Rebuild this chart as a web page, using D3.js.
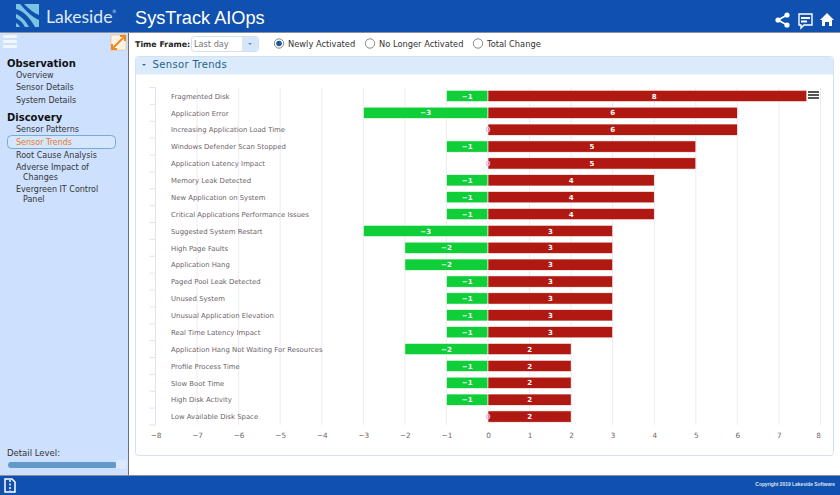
<!DOCTYPE html>
<html>
<head>
<meta charset="utf-8">
<script src="https://cdn.jsdelivr.net/npm/d3@7"></script>
<style>
html, body { margin: 0; padding: 0; background: #fff; overflow: hidden; }
svg { display: block; }
text { font-family: "DejaVu Sans", sans-serif; }
</style>
</head>
<body>
<svg id="page" width="840" height="495"></svg>
<script>
const categories = ['Fragmented Disk', 'Application Error', 'Increasing Application Load Time', 'Windows Defender Scan Stopped',
  'Application Latency Impact', 'Memory Leak Detected', 'New Application on System', 'Critical Applications Performance Issues',
  'Suggested System Restart', 'High Page Faults', 'Application Hang', 'Paged Pool Leak Detected', 'Unused System',
  'Unusual Application Elevation', 'Real Time Latency Impact', 'Application Hang Not Waiting For Resources',
  'Profile Process Time', 'Slow Boot Time', 'High Disk Activity', 'Low Available Disk Space'];
const noLongerActive = [-1, -3, 0, -1, 0, -1, -1, -1, -3, -2, -2, -1, -1, -1, -1, -2, -1, -1, -1, 0];
const newlyActive = [8, 6, 6, 5, 5, 4, 4, 4, 3, 3, 3, 3, 3, 3, 3, 2, 2, 2, 2, 2];
const tickValues = d3.range(-8, 9);
const observationLinks = ['Overview', 'Sensor Details', 'System Details'];
const discoveryLinks = ['Sensor Patterns', 'Sensor Trends', 'Root Cause Analysis'];
const radioLabels = ['Newly Activated', 'No Longer Activated', 'Total Change'];

const svg = d3.select('#page');
const blue = '#1050ae';

// page frame
svg.append('rect').attr('width', 840).attr('height', 32).attr('fill', blue);
svg.append('rect').attr('y', 32).attr('width', 840).attr('height', 1).attr('fill', '#8a9099');
svg.append('rect').attr('y', 33).attr('width', 128).attr('height', 442).attr('fill', '#cde1fe');
svg.append('rect').attr('x', 128).attr('y', 33).attr('width', 1).attr('height', 442).attr('fill', '#66707c');
svg.append('rect').attr('y', 475).attr('width', 840).attr('height', 1).attr('fill', '#8a9099');
svg.append('rect').attr('y', 476).attr('width', 840).attr('height', 19).attr('fill', blue);

// logo
const logo = svg.append('g');
logo.append('rect').attr('x', 16).attr('y', 4).attr('width', 23).attr('height', 23).attr('fill', '#7cc4e4');
logo.append('path').attr('d', 'M16 9 C24 11 30 18 35 27 L29 27 C25 20 21 16 16 14 Z M16 18 C20 20 23 23 25 27 L20 27 C19 25 18 24 16 23 Z M24 4 C29 9 34 13 39 15 L39 20 C32 17 26 11 20 4 Z').attr('fill', blue);
svg.append('text').attr('x', 46).attr('y', 23).attr('fill', '#dfeaf8').attr('font-size', 17.6).style('font-family', 'Lato, sans-serif').text('Lakeside');
svg.append('text').attr('x', 112).attr('y', 13).attr('fill', '#dfeaf8').attr('font-size', 4.5).text('\u00ae');
svg.append('text').attr('x', 135).attr('y', 24).attr('fill', '#fff').attr('font-size', 18.2).style('font-family', '"Liberation Sans", sans-serif').text('SysTrack AIOps');

// header icons
const icons = svg.append('g').attr('fill', '#fff');
icons.append('path').attr('d', 'M778 20 L787 15 M778 20 L787 25').attr('stroke', '#fff').attr('stroke-width', 1.6);
[[778, 20], [787, 15], [787, 25]].forEach(p => icons.append('circle').attr('cx', p[0]).attr('cy', p[1]).attr('r', 2.6));
icons.append('path').attr('d', 'M799 14 H812 V25 H804 L801 28 V25 H799 Z').attr('fill', 'none').attr('stroke', '#fff').attr('stroke-width', 1.4);
icons.append('rect').attr('x', 801).attr('y', 17).attr('width', 9).attr('height', 2);
icons.append('rect').attr('x', 801).attr('y', 20.5).attr('width', 6).attr('height', 2);
icons.append('path').attr('d', 'M827 13 L834 20 L832 20 L832 26 L829 26 L829 22 L825 22 L825 26 L822 26 L822 20 L820 20 Z');

// sidebar
svg.append('g').attr('fill', '#f2f7ff').selectAll('rect').data([36, 41, 46]).join('rect')
  .attr('x', 3).attr('y', d => d - 1).attr('width', 14).attr('height', 3).attr('rx', 1);
svg.append('rect').attr('x', 111).attr('y', 35).attr('width', 15).attr('height', 15).attr('fill', '#fdf3e6').attr('stroke', '#f5a45a').attr('stroke-width', .5);
svg.append('path').attr('d', 'M112 49 L125 36 M112 44 V49 H117 M120 36 H125 V41').attr('fill', 'none').attr('stroke', '#f08a1e').attr('stroke-width', 2);

const side = svg.append('g');
side.append('text').attr('x', 7).attr('y', 67).attr('font-size', 10).attr('font-weight', 'bold').attr('fill', '#111').text('Observation');
side.selectAll('.ob').data(observationLinks).join('text').attr('class', 'ob')
  .attr('x', 16).attr('y', (d, i) => 78 + i * 12.3).attr('font-size', 8).attr('fill', '#333').text(d => d);
side.append('text').attr('x', 7).attr('y', 121).attr('font-size', 10).attr('font-weight', 'bold').attr('fill', '#111').text('Discovery');
side.append('rect').attr('x', 7.5).attr('y', 135.5).attr('width', 108).attr('height', 13).attr('rx', 4).attr('fill', '#d5e7fd').attr('stroke', '#79a9dc');
side.selectAll('.di').data(discoveryLinks).join('text').attr('class', 'di')
  .attr('x', 16).attr('y', (d, i) => 132 + i * 12.9).attr('font-size', 8)
  .attr('fill', d => d == 'Sensor Trends' ? '#e8792b' : '#333').text(d => d);
[['Adverse Impact of', 16, 170], ['Changes', 23, 180], ['Evergreen IT Control', 16, 192], ['Panel', 23, 202]].forEach(t =>
  side.append('text').attr('x', t[1]).attr('y', t[2]).attr('font-size', 8).attr('fill', '#333').text(t[0]));
side.append('text').attr('x', 7).attr('y', 456).attr('font-size', 8.5).attr('fill', '#333').text('Detail Level:');
side.append('rect').attr('x', 8).attr('y', 462).attr('width', 109).attr('height', 6).attr('rx', 3).attr('fill', '#5f9acb');
side.append('rect').attr('x', 116).attr('y', 460).attr('width', 11).attr('height', 9).attr('rx', 2).attr('fill', '#dbe9fb');

// footer
svg.append('path').attr('d', 'M5 479 H12 L15 482 V492 H5 Z').attr('fill', 'none').attr('stroke', '#fff').attr('stroke-width', 1.5);
svg.append('path').attr('d', 'M10 480 V491').attr('stroke', '#fff').attr('stroke-width', 1.5).attr('stroke-dasharray', '2 1.5');
svg.append('text').attr('x', 835).attr('y', 486).attr('text-anchor', 'end').attr('font-size', 4.9).attr('font-weight', 'bold').attr('fill', '#dbe6f5').style('font-family', '"Liberation Sans", sans-serif').text('Copyright 2019 Lakeside Software');

// time frame controls
svg.append('text').attr('x', 135).attr('y', 47).attr('font-size', 7.9).attr('font-weight', 'bold').attr('fill', '#222').text('Time Frame:');
svg.append('rect').attr('x', 191.5).attr('y', 36.5).attr('width', 67).attr('height', 15).attr('rx', 3).attr('fill', '#fff').attr('stroke', '#cfe0f3');
svg.append('path').attr('d', 'M242 37 H255 Q258 37 258 40 V48 Q258 51 255 51 H242 Z').attr('fill', '#d6e6f9');
svg.append('path').attr('d', 'M248 43 H252 L250 45 Z').attr('fill', '#5f8fc0');
svg.append('text').attr('x', 194).attr('y', 47).attr('font-size', 8.2).attr('fill', '#777').text('Last day');

const radioX = [279, 370, 478];
const radios = svg.append('g').selectAll('g').data(radioLabels).join('g').attr('transform', (d, i) => `translate(${radioX[i]},43.5)`);
radios.append('circle').attr('r', 4.7).attr('fill', '#fff').attr('stroke', '#888');
radios.filter((d, i) => i == 0).append('circle').attr('r', 2.8).attr('fill', '#1a5a96');
radios.append('text').attr('x', 9).attr('y', 3.5).attr('font-size', 8.3).attr('fill', '#333').text(d => d);

// panel
svg.append('rect').attr('x', 135.5).attr('y', 56.5).attr('width', 698).attr('height', 399).attr('rx', 3).attr('fill', '#fff').attr('stroke', '#d3e2f2');
svg.append('path').attr('d', 'M136 74.5 V59.5 Q136 57 139 57 H830 Q833 57 833 59.5 V74.5 Z').attr('fill', '#dcebfb');
svg.append('path').attr('d', 'M142 64 H146 L144 66 Z').attr('fill', '#2e6ea8');
svg.append('text').attr('x', 152.5).attr('y', 68).attr('font-size', 10).attr('fill', '#22638f').style('letter-spacing', '0.35px').text('Sensor Trends');

// chart
const x = d3.scaleLinear().domain([-8, 8]).range([155.5, 820.5]);
const y = d3.scaleBand().domain(categories).range([87.5, 425]).paddingInner(0.33).paddingOuter(0.165);
const rows = categories.map((c, i) => ({ c, neg: noLongerActive[i], pos: newlyActive[i] }));

const defs = svg.append('defs');
defs.append('clipPath').attr('id', 'plotClip').append('rect')
  .attr('x', x(-8)).attr('y', y.range()[0]).attr('width', x(7.66) - x(-8)).attr('height', y.range()[1] - y.range()[0]);

const chart = svg.append('g');
chart.append('g').selectAll('line').data(tickValues).join('line')
  .attr('x1', d => x(d)).attr('x2', d => x(d)).attr('y1', y.range()[0]).attr('y2', y.range()[1])
  .attr('stroke', '#ececf0').attr('stroke-width', 1);

const step = y.step();
chart.append('path').attr('d', `M${x(-8)} ${y.range()[0]} V${y.range()[1]}`).attr('stroke', '#dfe3f4').attr('fill', 'none');
chart.append('g').selectAll('line').data(d3.range(categories.length + 1)).join('line')
  .attr('x1', x(-8) - 6).attr('x2', x(-8)).attr('y1', i => y.range()[0] + i * step).attr('y2', i => y.range()[0] + i * step)
  .attr('stroke', '#dfe3f4');

chart.append('g').selectAll('text').data(categories).join('text')
  .attr('x', 171).attr('y', d => y(d) + y.bandwidth() / 2 + 2.7)
  .attr('font-size', 6.9).attr('fill', '#6d6469').text(d => d);

const bars = chart.append('g').attr('clip-path', 'url(#plotClip)');
bars.selectAll('.neg').data(rows.filter(r => r.neg < 0)).join('rect').attr('class', 'neg')
  .attr('x', d => x(d.neg)).attr('y', d => y(d.c)).attr('width', d => x(0) - x(d.neg)).attr('height', y.bandwidth())
  .attr('fill', '#10ce38').attr('stroke', '#fff').attr('stroke-width', .6);
bars.selectAll('.pos').data(rows).join('rect').attr('class', 'pos')
  .attr('x', x(0)).attr('y', d => y(d.c)).attr('width', d => x(d.pos) - x(0)).attr('height', y.bandwidth())
  .attr('fill', '#b01812').attr('stroke', '#fff').attr('stroke-width', .6);

// zero markers where nothing stopped
chart.append('g').selectAll('text').data(rows.filter(r => r.neg == 0)).join('text')
  .attr('x', x(0)).attr('y', d => y(d.c) + y.bandwidth() / 2 + 2.6)
  .attr('text-anchor', 'middle').attr('font-size', 7).attr('font-weight', 'bold').attr('fill', '#e9b6e6').text('0');

const labels = chart.append('g').attr('font-size', 7).attr('font-weight', 'bold').attr('fill', '#fff').attr('text-anchor', 'middle');
labels.selectAll('.nl').data(rows.filter(r => r.neg < 0)).join('text').attr('class', 'nl')
  .attr('x', d => x(d.neg / 2)).attr('y', d => y(d.c) + y.bandwidth() / 2 + 2.6).text(d => '\u2212' + Math.abs(d.neg));
labels.selectAll('.pl').data(rows).join('text').attr('class', 'pl')
  .attr('x', d => x(d.pos / 2)).attr('y', d => y(d.c) + y.bandwidth() / 2 + 2.6).text(d => d.pos);

const axis = d3.axisBottom(x).tickValues(tickValues).tickSize(0).tickPadding(0).tickFormat(d => (d < 0 ? '\u2212' + (-d) : d));
const axisG = chart.append('g').attr('transform', 'translate(0,438)').call(axis);
axisG.select('.domain').remove();
axisG.selectAll('text').attr('font-size', 7.3).attr('fill', '#6d6469').attr('dy', '0')
  .style('font-family', '"DejaVu Sans", sans-serif')
  .filter(d => d == 8).attr('dx', -2.5);

// context menu button
svg.append('g').attr('fill', '#555').selectAll('rect').data([91, 94, 97]).join('rect')
  .attr('x', 808).attr('y', d => d).attr('width', 11).attr('height', 2);
</script>
</body>
</html>
